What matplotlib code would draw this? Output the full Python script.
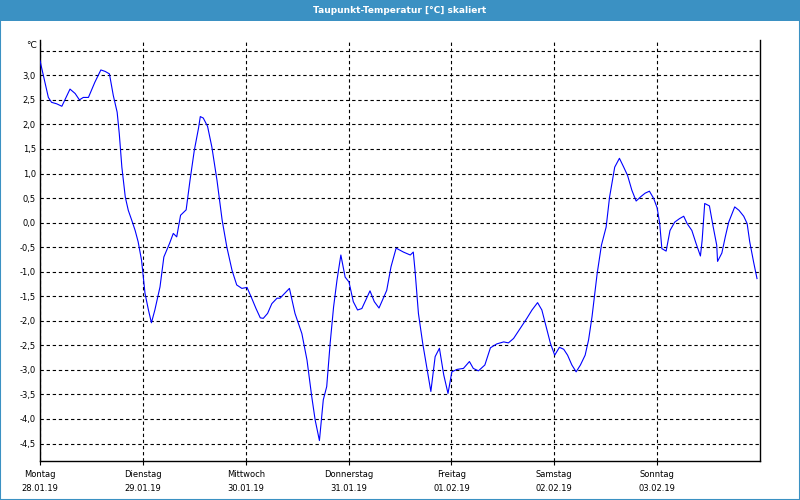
import matplotlib.pyplot as plt
from matplotlib.patches import Rectangle

# hours since Monday 28.01.19 00:00 and dew point in degC
hours = [0.0, 1.95, 2.7, 3.9, 5.1, 7.0, 8.2, 9.2, 10.1, 11.3, 12.8, 14.2, 15.2, 16.2,
         17.1, 18.0, 18.5, 19.1, 19.9, 20.6, 21.4, 22.2, 22.9, 23.7, 24.5, 25.3, 26.0,
         26.8, 28.0, 28.9, 30.2, 31.1, 31.9, 32.8, 34.1, 35.0, 36.0, 37.0, 37.4, 38.1,
         39.1, 40.1, 41.3, 42.5, 43.6, 44.8, 45.9, 47.1, 48.3, 49.4, 50.4, 51.4, 52.1,
         53.1, 54.1, 55.3, 56.0, 58.2, 59.5, 61.1, 62.3, 63.4, 64.2, 65.2, 66.1, 66.9,
         67.7, 68.5, 69.3, 70.2, 71.2, 72.1, 73.1, 74.1, 75.1, 77.0, 78.0, 79.1, 80.9,
         81.9, 83.1, 84.8, 86.4, 87.1, 87.5, 88.3, 89.3, 90.3, 91.2, 92.2, 93.2, 94.2,
         95.2, 96.1, 97.3, 98.8, 100.2, 101.1, 102.3, 103.8, 105.1, 106.6, 108.2, 109.3,
         110.5, 112.1, 113.6, 114.8, 116.1, 117.1, 118.1, 119.1, 120.1, 121.2, 122.2,
         123.1, 124.1, 125.1, 126.1, 127.2, 128.0, 128.8, 130.0, 131.0, 132.1, 132.9,
         134.1, 135.2, 136.2, 137.1, 138.1, 139.1, 140.2, 141.2, 142.2, 143.2, 144.0,
         144.6, 145.1, 146.1, 147.0, 148.1, 149.2, 150.2, 151.0, 152.1, 153.1, 154.1,
         154.5, 155.1, 156.2, 157.0, 157.9, 158.1, 159.1, 159.9, 160.7, 162.1, 163.1,
         164.2, 165.0, 165.6, 166.5, 167.3]
dewpoint = [3.30, 2.55, 2.45, 2.42, 2.37, 2.72, 2.63, 2.50, 2.55, 2.55, 2.86, 3.11, 3.08, 3.03,
            2.59, 2.25, 1.81, 1.13, 0.52, 0.25, 0.05, -0.16, -0.39, -0.77, -1.44, -1.78, -2.04,
            -1.78, -1.31, -0.70, -0.43, -0.22, -0.29, 0.15, 0.26, 0.86, 1.47, 1.93, 2.16, 2.13,
            1.96, 1.54, 0.86, 0.05, -0.50, -0.97, -1.27, -1.34, -1.32, -1.54, -1.75, -1.94, -1.95,
            -1.85, -1.65, -1.54, -1.54, -1.34, -1.85, -2.26, -2.80, -3.54, -4.02, -4.44, -3.61, -3.34,
            -2.46, -1.72, -1.17, -0.66, -1.11, -1.21, -1.61, -1.78, -1.75, -1.39, -1.61, -1.74, -1.38,
            -0.90, -0.52, -0.60, -0.66, -0.60, -0.97, -1.85, -2.46, -2.97, -3.44, -2.73, -2.56, -3.10,
            -3.48, -3.04, -2.99, -2.97, -2.83, -2.97, -3.02, -2.90, -2.55, -2.47, -2.43, -2.45,
            -2.36, -2.15, -1.95, -1.78, -1.63, -1.78, -2.12, -2.46, -2.70, -2.54, -2.58,
            -2.70, -2.90, -3.04, -2.90, -2.70, -2.39, -1.92, -1.04, -0.46, -0.09, 0.52,
            1.13, 1.31, 1.13, 0.96, 0.66, 0.44, 0.53, 0.60, 0.64, 0.49, 0.30,
            -0.02, -0.53, -0.58, -0.16, 0.01, 0.08, 0.13, -0.02, -0.16, -0.43, -0.68,
            -0.36, 0.39, 0.34, -0.05, -0.46, -0.79, -0.62, -0.29, 0.01, 0.32, 0.25,
            0.13, -0.02, -0.39, -0.80, -1.14]

days = ['Montag', 'Dienstag', 'Mittwoch', 'Donnerstag', 'Freitag', 'Samstag', 'Sonntag']
dates = ['28.01.19', '29.01.19', '30.01.19', '31.01.19', '01.02.19', '02.02.19', '03.02.19']
y_ticks = [-4.5, -4.0, -3.5, -3.0, -2.5, -2.0, -1.5, -1.0, -0.5, 0.0, 0.5, 1.0, 1.5, 2.0, 2.5, 3.0]

fig = plt.figure(figsize=(8, 5), dpi=100)
fig.patch.set_facecolor('white')

# title bar + thin blue frame round the figure
fig.patches.append(Rectangle((0, 0.9586), 1, 0.0414, transform=fig.transFigure,
                             facecolor='#3b91c3', edgecolor='none', zorder=0))
fig.patches.append(Rectangle((0.0006, 0.001), 0.9988, 0.998, transform=fig.transFigure,
                             facecolor='none', edgecolor='#3b91c3', lw=1.5, zorder=0))
fig.text(0.5, 0.979, 'Taupunkt-Temperatur [°C] skaliert', color='white',
         fontsize=6.5, fontweight='bold', ha='center', va='center')

ax = fig.add_axes([0.05, 0.0786, 0.90, 0.8414])
ax.set_facecolor('white')

days_x = [h / 24 for h in hours]
ax.plot(days_x, dewpoint, color='#0000ff', lw=0.8, zorder=3)

ax.set_xlim(0, 7)
ax.set_ylim(-4.85, 3.72)

ax.set_xticks(range(len(days)))
ax.set_xticklabels([f'{d}\n{t}' for d, t in zip(days, dates)], fontsize=6,
                   linespacing=1.7)
ax.tick_params(axis='x', length=3, width=0.8, pad=4, colors='black')

ax.set_yticks(y_ticks + [3.5])
ax.set_yticklabels([f'{v:.1f}'.replace('.', ',') for v in y_ticks] + [''], fontsize=6)
ax.tick_params(axis='y', length=0, pad=3)

ax.grid(True, color='black', lw=0.8, linestyle=(0, (3, 2.5)))
ax.set_axisbelow(True)

for side in ['left', 'bottom', 'right']:
    ax.spines[side].set_linewidth(1.0)
    ax.spines[side].set_color('black')
ax.spines['top'].set_visible(False)

ax.text(-0.004, 3.6, '°C', transform=ax.get_yaxis_transform(), ha='right',
        va='center', fontsize=6.5)

fig.savefig('out.png', dpi=100, facecolor=fig.get_facecolor())
